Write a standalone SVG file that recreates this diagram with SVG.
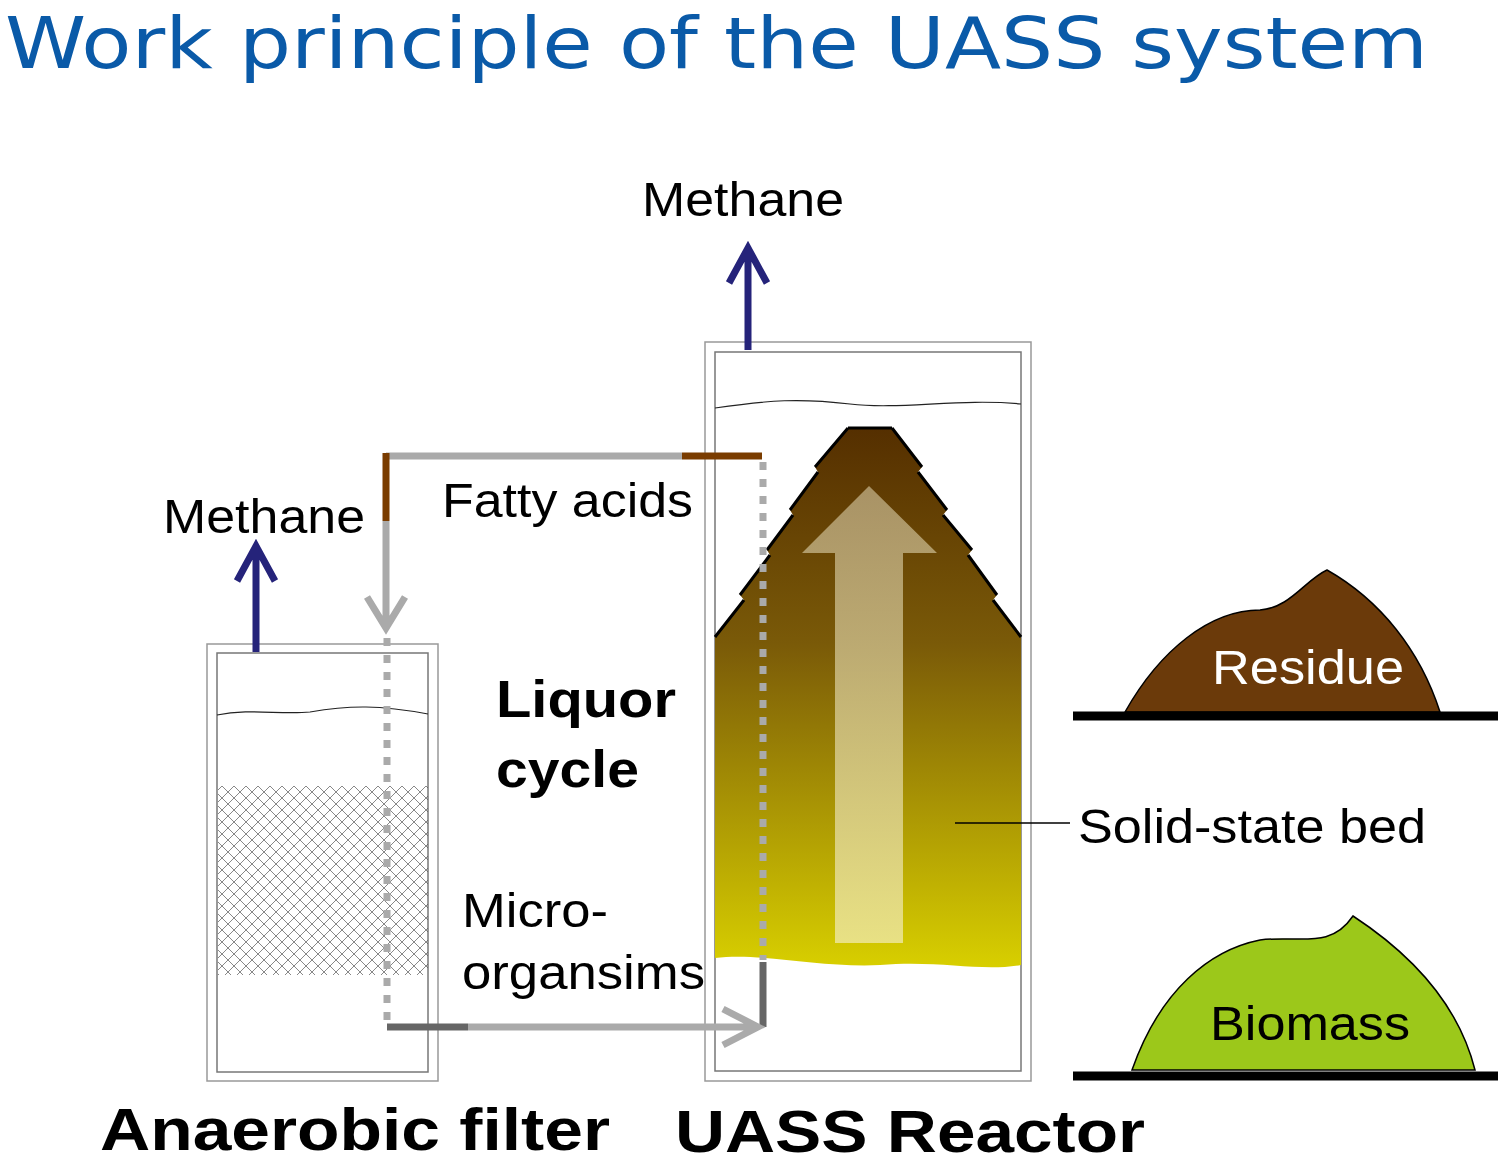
<svg xmlns="http://www.w3.org/2000/svg" width="1500" height="1162" viewBox="0 0 1500 1162">
<style>
.t{font-family:"Liberation Sans",Arial,sans-serif;fill:#000}
.frame{fill:none;stroke:#999;stroke-width:1.5}
.inner{fill:none;stroke:#777;stroke-width:1.5}
.wave{fill:none;stroke:#222;stroke-width:1.2}
.meth{fill:none;stroke:#25237a;stroke-width:7}
.gp{fill:none;stroke:#aaa;stroke-width:7}
.dot{fill:none;stroke:#aaa;stroke-width:7;stroke-dasharray:8 9}
.dk{fill:none;stroke:#666;stroke-width:7}
.br{fill:none;stroke:#7a3c00;stroke-width:7}
.notch{fill:none;stroke:#000;stroke-width:3}
</style>
<defs>
<linearGradient id="bed" x1="0" y1="0" x2="0" y2="1">
<stop offset="0" stop-color="#552f00"/><stop offset="0.4" stop-color="#7a5a08"/><stop offset="1" stop-color="#d8cf00"/>
</linearGradient>
<linearGradient id="ar" x1="0" y1="0" x2="0" y2="1">
<stop offset="0" stop-color="#c8b890" stop-opacity="0.7"/><stop offset="1" stop-color="#f0eab0" stop-opacity="0.75"/>
</linearGradient>
<pattern id="hatch" width="12" height="12" patternUnits="userSpaceOnUse">
<path d="M0 0L12 12M12 0L0 12" stroke="#555" stroke-width="0.7"/>
</pattern>
</defs>
<text x="5" y="68" font-family="Verdana,'DejaVu Sans',sans-serif" font-size="72" fill="#0a5aa8" textLength="1423" lengthAdjust="spacingAndGlyphs">Work principle of the UASS system</text>

<g id="uass-reactor">
<rect class="frame" x="705" y="342" width="326" height="739"/>
<rect class="inner" x="715" y="352" width="306" height="719"/>
<path class="wave" d="M715 408 C770 400 800 398 850 404 C900 410 960 398 1021 404"/>
<path d="M848 428 L892 428 L922 467 L918 472 L947 510 L943 515 L972 550 L968 555 L997 595 L993 600 L1021 637 L1021 965 C980 972 940 960 880 965 C820 968 760 952 715 958 L715 637 L744 600 L740 595 L770 555 L767 550 L793 515 L790 510 L818 472 L815 467 Z" fill="url(#bed)"/>
<path class="notch" d="M848 428 L892 428 M848 428 L815 467 M892 428 L922 467 M818 472 L790 510 M918 472 L947 510 M793 515 L767 550 M943 515 L972 550 M770 555 L740 595 M968 555 L997 595 M744 600 L715 637 M993 600 L1021 637"/>
<path d="M869 486 L937 553 L903 553 L903 943 L835 943 L835 553 L802 553 Z" fill="url(#ar)"/>
</g>

<g id="anaerobic-filter">
<rect class="frame" x="207" y="644" width="231" height="437"/>
<rect class="inner" x="217" y="653" width="211" height="419"/>
<path class="wave" d="M217 715 C250 708 280 715 310 712 C350 705 380 705 428 714"/>
<rect x="218" y="786" width="210" height="189" fill="url(#hatch)"/>
</g>

<g id="residue">
<path d="M1125 712 C1160 650 1210 610 1260 610 C1290 608 1305 580 1327 570 C1380 600 1420 650 1440 712 Z" fill="#6b3a0a" stroke="#000" stroke-width="1.5"/>
<line x1="1073" y1="716" x2="1498" y2="716" stroke="#000" stroke-width="9"/>
<text class="t" x="1308" y="684" font-size="48" text-anchor="middle" style="fill:#fff" textLength="192" lengthAdjust="spacingAndGlyphs">Residue</text>
</g>
<g id="biomass">
<path d="M1132 1070 C1160 990 1210 950 1260 940 C1300 935 1330 950 1353 916 C1420 960 1460 1010 1475 1070 Z" fill="#9cc81a" stroke="#000" stroke-width="1.5"/>
<line x1="1073" y1="1076" x2="1498" y2="1076" stroke="#000" stroke-width="9"/>
<text class="t" x="1310" y="1040" font-size="48" text-anchor="middle" textLength="200" lengthAdjust="spacingAndGlyphs">Biomass</text>
</g>

<g id="connectors">
<path class="meth" d="M748 350 L748 248 M729 283 L748 248 L767 283"/>
<path class="meth" d="M256 652 L256 546 M237 581 L256 546 L275 581"/>
<path class="gp" d="M386 456 L682 456"/>
<path class="br" d="M682 456 L762 456 M386 453 L386 521"/>
<path class="gp" d="M386 521 L386 628 M367 597 L386 628 L405 597"/>
<path class="dot" d="M387 638 L387 1026"/>
<path class="dot" d="M763 462 L763 960"/>
<path class="dk" d="M763 962 L763 1027 M387 1027 L468 1027"/>
<path class="gp" d="M468 1027 L758 1027 M723 1009 L758 1027 L723 1045"/>
<line x1="955" y1="823" x2="1070" y2="823" stroke="#000" stroke-width="1.5"/>
</g>

<text class="t" x="642" y="216" font-size="48" textLength="202" lengthAdjust="spacingAndGlyphs">Methane</text>
<text class="t" x="163" y="533" font-size="48" textLength="202" lengthAdjust="spacingAndGlyphs">Methane</text>
<text class="t" x="442" y="517" font-size="48" textLength="251" lengthAdjust="spacingAndGlyphs">Fatty acids</text>
<text class="t" x="496" y="717" font-size="52" font-weight="bold" textLength="180" lengthAdjust="spacingAndGlyphs">Liquor</text>
<text class="t" x="496" y="787" font-size="52" font-weight="bold" textLength="143" lengthAdjust="spacingAndGlyphs">cycle</text>
<text class="t" x="462" y="927" font-size="48" textLength="146" lengthAdjust="spacingAndGlyphs">Micro-</text>
<text class="t" x="462" y="989" font-size="48" textLength="243" lengthAdjust="spacingAndGlyphs">organsims</text>
<text class="t" x="1078" y="843" font-size="48" textLength="348" lengthAdjust="spacingAndGlyphs">Solid-state bed</text>
<text class="t" x="100" y="1150" font-size="60" font-weight="bold" textLength="510" lengthAdjust="spacingAndGlyphs">Anaerobic filter</text>
<text class="t" x="675" y="1152" font-size="60" font-weight="bold" textLength="470" lengthAdjust="spacingAndGlyphs">UASS Reactor</text>
</svg>
